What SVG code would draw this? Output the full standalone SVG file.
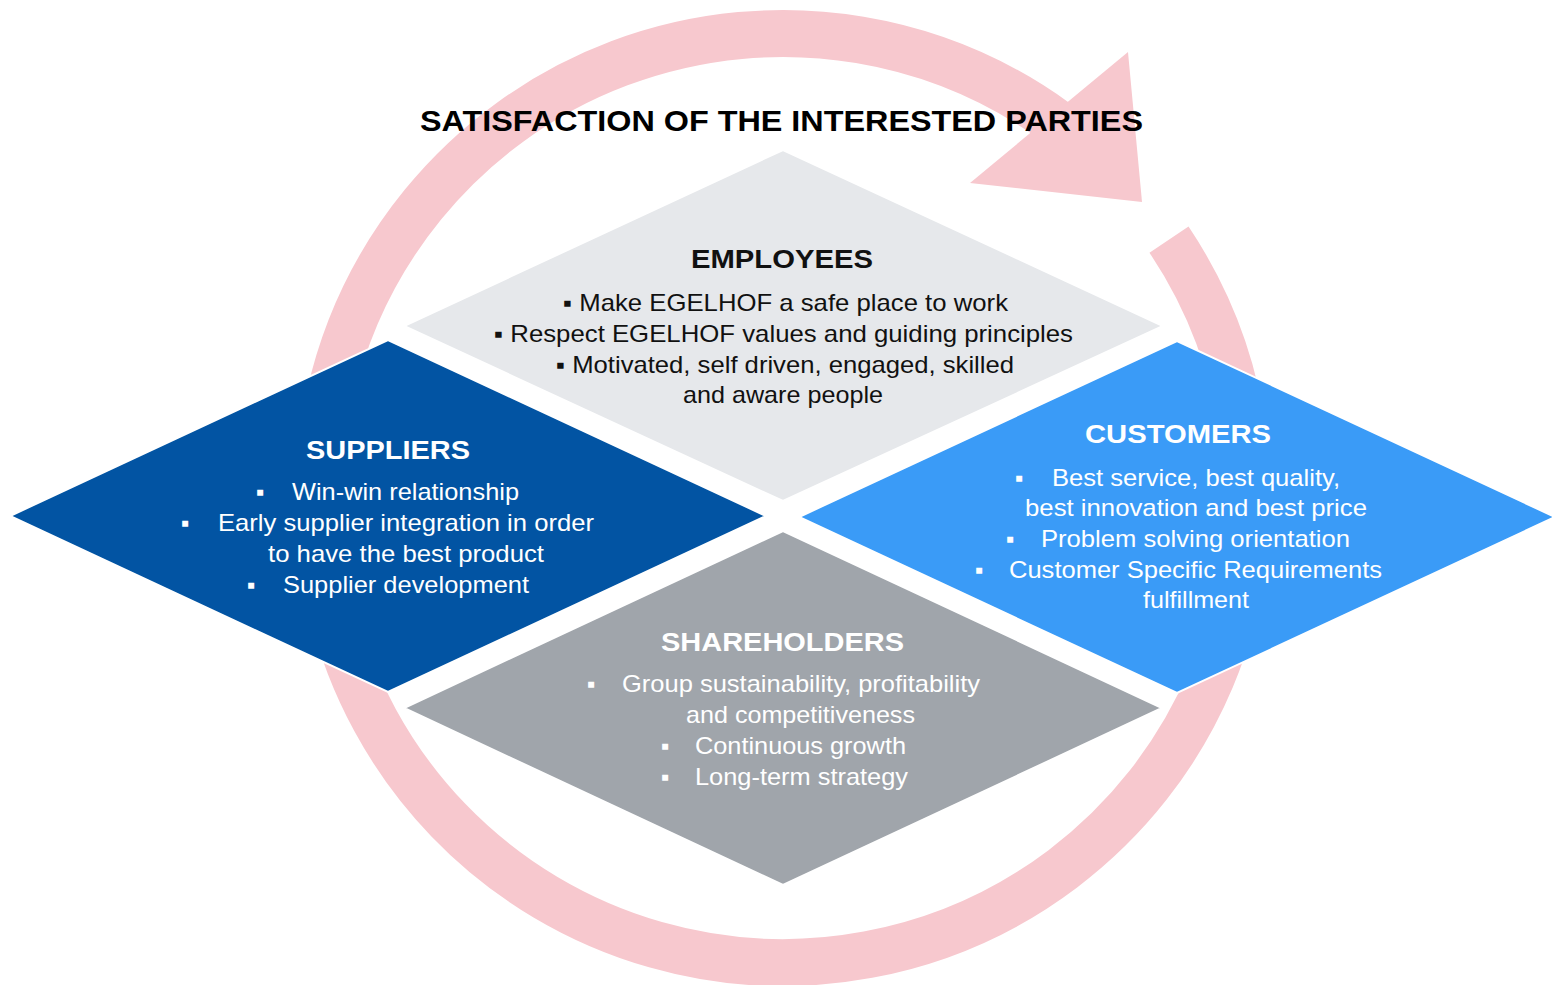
<svg xmlns="http://www.w3.org/2000/svg" width="1552" height="985" viewBox="0 0 1552 985">
  <style>
    .ring { fill: none; stroke: #F7C8CE; stroke-width: 47; stroke-linecap: butt; }
    .head { fill: #F7C8CE; stroke: none; }
    .dia { stroke: #FFFFFF; stroke-width: 2; stroke-linejoin: miter; }
    .t { font-family: "Liberation Sans", Arial, sans-serif; }
    .main { font-size: 30px; font-weight: bold; fill: #000000; }
    .hd { font-size: 26px; font-weight: bold; }
    .bd { font-size: 24px; }
    .dark { fill: #111111; }
    .light { fill: #FFFFFF; }
  </style>
  <rect x="0" y="0" width="1552" height="985" fill="#FFFFFF"/>

  <g id="connectors">
    <path class="ring" d="M1169.0,239.6 A464.5,464.5 0 1 1 1056.0,122.2"/>
    <polygon class="head" points="970,183 1128,52 1142,202"/>
  </g>

  <g id="employees">
    <polygon class="dia" fill="#E6E8EB" points="783,150 1163,326 783,501 404,326"/>
    <text class="t hd dark" x="691" y="268" textLength="182" lengthAdjust="spacingAndGlyphs">EMPLOYEES</text>
    <text class="t bd dark" x="563" y="311" textLength="445" lengthAdjust="spacingAndGlyphs">▪ Make EGELHOF a safe place to work</text>
    <text class="t bd dark" x="494" y="342" textLength="579" lengthAdjust="spacingAndGlyphs">▪ Respect EGELHOF values and guiding principles</text>
    <text class="t bd dark" x="556" y="373" textLength="458" lengthAdjust="spacingAndGlyphs">▪ Motivated, self driven, engaged, skilled</text>
    <text class="t bd dark" x="683" y="403" textLength="200" lengthAdjust="spacingAndGlyphs">and aware people</text>
  </g>

  <g id="suppliers">
    <polygon class="dia" fill="#0254A3" points="388,340 766,516 388,692 10,516"/>
    <text class="t hd light" x="306" y="459" textLength="164" lengthAdjust="spacingAndGlyphs">SUPPLIERS</text>
    <text class="t bd light" x="256" y="500">▪</text>
    <text class="t bd light" x="292" y="500" textLength="227" lengthAdjust="spacingAndGlyphs">Win-win relationship</text>
    <text class="t bd light" x="181" y="531">▪</text>
    <text class="t bd light" x="218" y="531" textLength="376" lengthAdjust="spacingAndGlyphs">Early supplier integration in order</text>
    <text class="t bd light" x="268" y="562" textLength="276" lengthAdjust="spacingAndGlyphs">to have the best product</text>
    <text class="t bd light" x="247" y="593">▪</text>
    <text class="t bd light" x="283" y="593" textLength="246" lengthAdjust="spacingAndGlyphs">Supplier development</text>
  </g>

  <g id="customers">
    <polygon class="dia" fill="#3A9BF7" points="1177,341 1555,517 1177,693 799,517"/>
    <text class="t hd light" x="1085" y="443" textLength="186" lengthAdjust="spacingAndGlyphs">CUSTOMERS</text>
    <text class="t bd light" x="1015" y="486">▪</text>
    <text class="t bd light" x="1052" y="486" textLength="288" lengthAdjust="spacingAndGlyphs">Best service, best quality,</text>
    <text class="t bd light" x="1025" y="516" textLength="342" lengthAdjust="spacingAndGlyphs">best innovation and best price</text>
    <text class="t bd light" x="1006" y="547">▪</text>
    <text class="t bd light" x="1041" y="547" textLength="309" lengthAdjust="spacingAndGlyphs">Problem solving orientation</text>
    <text class="t bd light" x="975" y="578">▪</text>
    <text class="t bd light" x="1009" y="578" textLength="373" lengthAdjust="spacingAndGlyphs">Customer Specific Requirements</text>
    <text class="t bd light" x="1143" y="608" textLength="106" lengthAdjust="spacingAndGlyphs">fulfillment</text>
  </g>

  <g id="shareholders">
    <polygon class="dia" fill="#A0A5AB" points="783,531 1162,708 783,885 404,708"/>
    <text class="t hd light" x="661" y="651" textLength="243" lengthAdjust="spacingAndGlyphs">SHAREHOLDERS</text>
    <text class="t bd light" x="587" y="692">▪</text>
    <text class="t bd light" x="622" y="692" textLength="358" lengthAdjust="spacingAndGlyphs">Group sustainability, profitability</text>
    <text class="t bd light" x="686" y="723" textLength="229" lengthAdjust="spacingAndGlyphs">and competitiveness</text>
    <text class="t bd light" x="661" y="754">▪</text>
    <text class="t bd light" x="695" y="754" textLength="211" lengthAdjust="spacingAndGlyphs">Continuous growth</text>
    <text class="t bd light" x="661" y="785">▪</text>
    <text class="t bd light" x="695" y="785" textLength="213" lengthAdjust="spacingAndGlyphs">Long-term strategy</text>
  </g>

  <g id="title">
    <text class="t main" x="420" y="131" textLength="723" lengthAdjust="spacingAndGlyphs">SATISFACTION OF THE INTERESTED PARTIES</text>
  </g>
</svg>
